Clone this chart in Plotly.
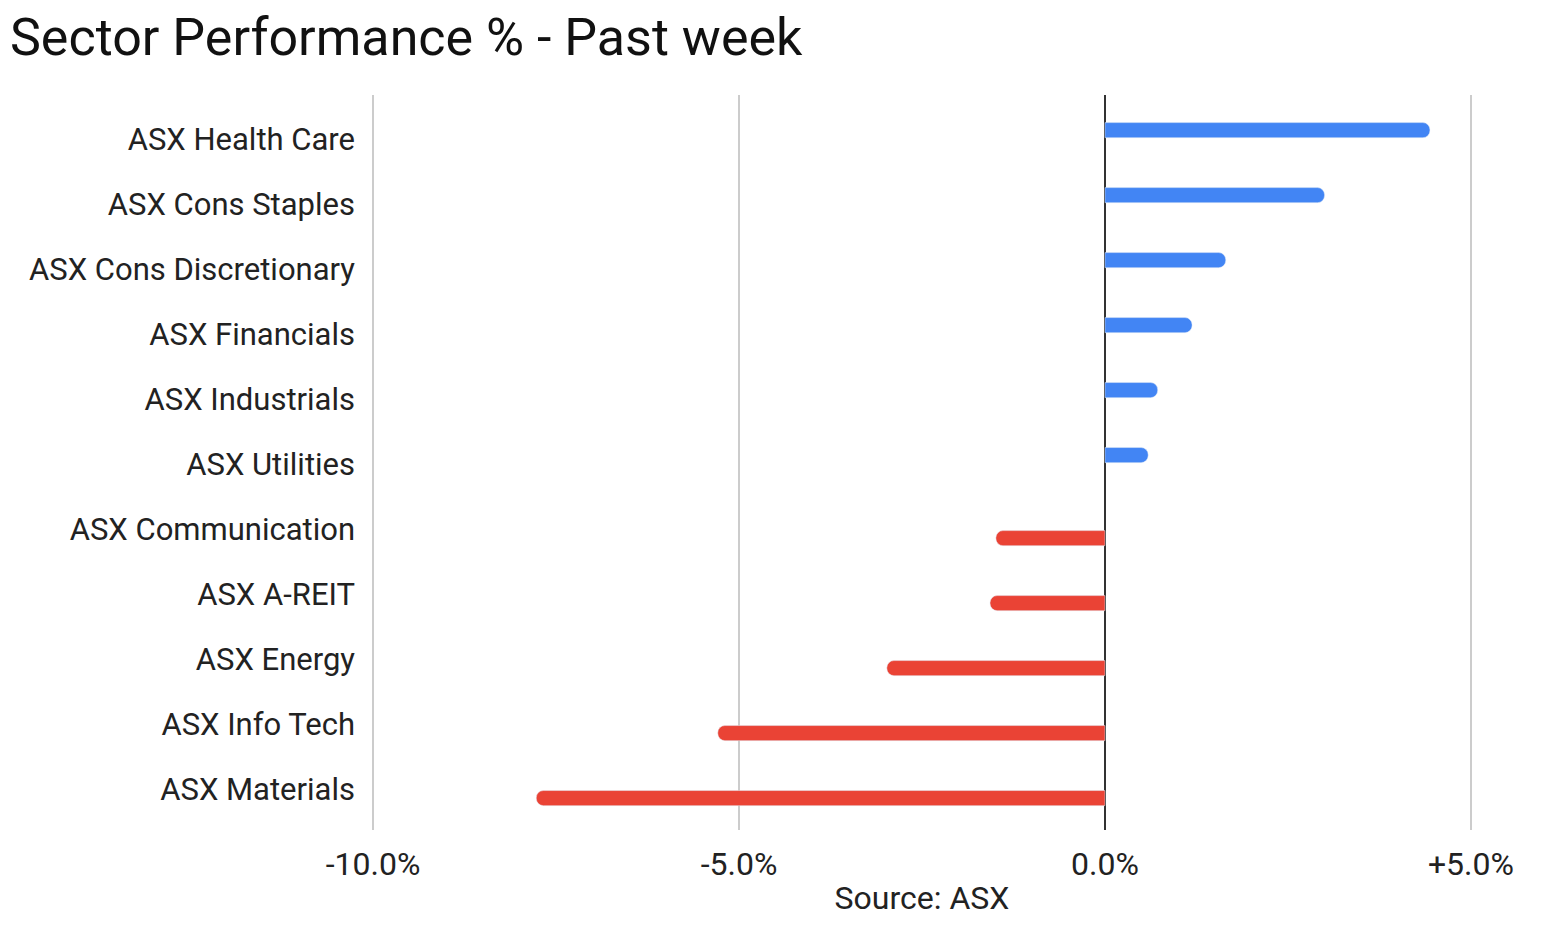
import plotly.graph_objects as go

# --- data (weekly % change) ---
sectors = [
    "ASX Health Care", "ASX Cons Staples", "ASX Cons Discretionary",
    "ASX Financials", "ASX Industrials", "ASX Utilities",
    "ASX Communication", "ASX A-REIT", "ASX Energy",
    "ASX Info Tech", "ASX Materials",
]
change = [4.44, 3.00, 1.65, 1.19, 0.72, 0.59, -1.49, -1.57, -2.98, -5.29, -7.77]

tick_vals = [-10, -5, 0, 5]
tick_text = ["-10.0%", "-5.0%", "0.0%", "+5.0%"]

BLUE = "#4285f4"
RED = "#ea4335"

# split in two series like the sheet did (gains / losses)
gains = [v if v >= 0 else None for v in change]
losses = [v if v < 0 else None for v in change]

fig = go.Figure()
fig.add_trace(go.Bar(y=sectors, x=gains, orientation="h", name="Gain",
                     marker=dict(color=BLUE, cornerradius=7)))
fig.add_trace(go.Bar(y=sectors, x=losses, orientation="h", name="Loss",
                     marker=dict(color=RED, cornerradius=7)))

# page body adds an 8px margin, so the figure is a bit smaller than the window
fig.update_layout(
    width=1529, height=932,
    barmode="group", bargap=0.444, bargroupgap=0.166,
    showlegend=False,
    plot_bgcolor="white", paper_bgcolor="white",
    font=dict(family="Roboto", color="#222222"),
    margin=dict(l=364, r=65, t=87, b=110),
    title=dict(text="Sector Performance % - Past week", x=0.0013, xanchor="left",
               y=0.969, yanchor="middle",
               font=dict(family="Roboto", size=52, color="#111111")),
)
fig.update_xaxes(
    range=[-10.015, 5.015], tickvals=tick_vals, ticktext=tick_text,
    tickfont=dict(size=32), showgrid=True, gridcolor="#cccccc", gridwidth=2,
    zeroline=True, zerolinecolor="#333333", zerolinewidth=2,
    title=dict(text="Source: ASX", font=dict(size=32), standoff=4),
    ticks="", ticklabelstandoff=12, automargin=False,
)
fig.update_yaxes(
    range=[10.63, -0.68], tickfont=dict(size=31),
    showgrid=False, ticks="", ticklabelstandoff=16, automargin=False,
)

fig.write_html("out.html")
